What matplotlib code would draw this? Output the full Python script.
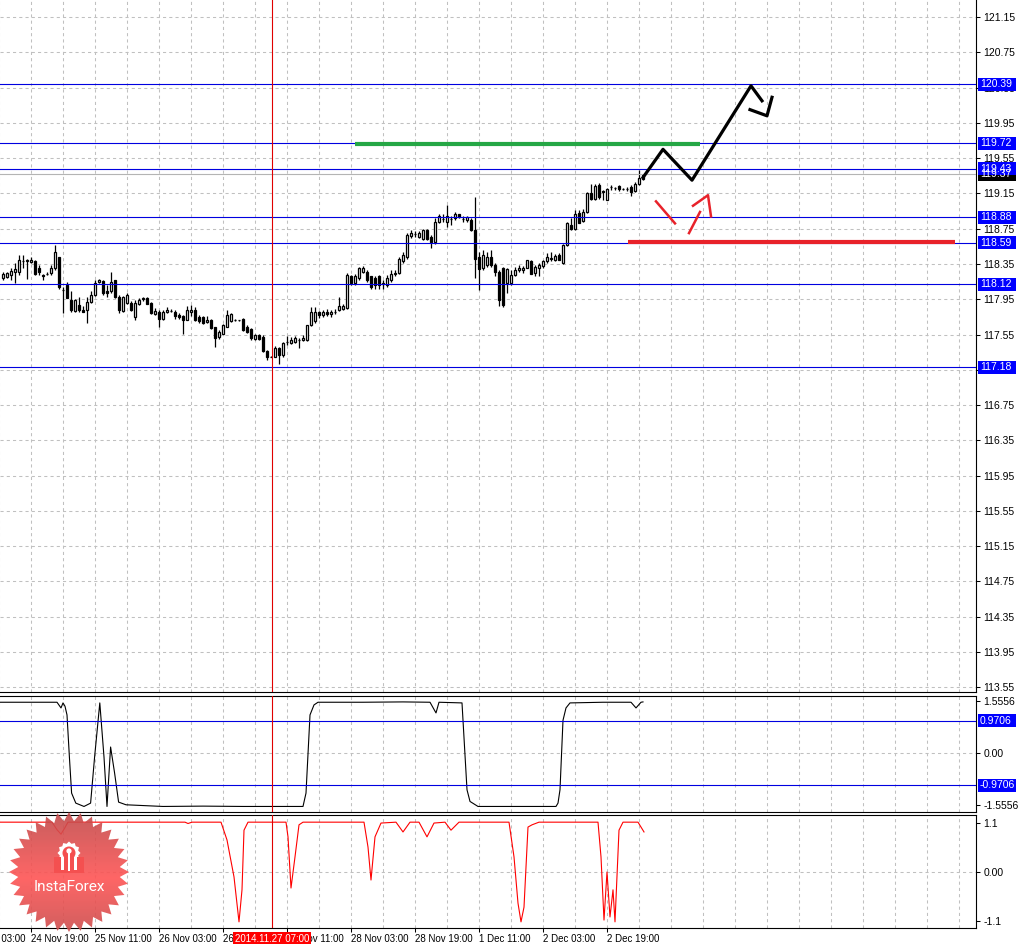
import numpy as np
import matplotlib.pyplot as plt
from matplotlib.patches import Rectangle, Polygon, Circle
from matplotlib.transforms import blended_transform_factory as blend

plt.rcParams['font.family'] = ['Liberation Sans', 'DejaVu Sans']
plt.rcParams['font.size'] = 7.5

# hourly USDJPY candles, bar 0 = 24 Nov 12:00
opens = [118.19, 118.20, 118.23, 118.26, 118.26, 118.38, 118.38, 118.37, 118.38, 118.31,
         118.23, 118.24, 118.25, 118.30, 118.43, 118.06, 118.11, 117.94, 117.82, 117.89,
         117.83, 117.83, 117.92, 118.00, 118.14, 118.16, 118.04, 118.04, 118.17, 117.98,
         117.82, 117.91, 117.91, 117.75, 117.90, 117.95, 117.96, 117.91, 117.78, 117.81,
         117.73, 117.80, 117.82, 117.80, 117.77, 117.76, 117.72, 117.81, 117.83, 117.75,
         117.75, 117.69, 117.71, 117.64, 117.52, 117.56, 117.64, 117.70, 117.72, 117.71,
         117.73, 117.64, 117.61, 117.50, 117.54, 117.52, 117.36, 117.30, 117.30, 117.40,
         117.32, 117.46, 117.45, 117.47, 117.49, 117.49, 117.49, 117.66, 117.70, 117.80,
         117.77, 117.80, 117.78, 117.81, 117.83, 117.84, 117.85, 118.21, 118.13, 118.19,
         118.26, 118.26, 118.21, 118.19, 118.21, 118.12, 118.11, 118.17, 118.24, 118.25,
         118.38, 118.43, 118.67, 118.69, 118.66, 118.63, 118.74, 118.66, 118.60, 118.83,
         118.86, 118.83, 118.86, 118.87, 118.92, 118.86, 118.85, 118.85, 118.73, 118.43,
         118.30, 118.34, 118.43, 118.34, 118.26, 118.30, 118.13, 118.13, 118.23, 118.28,
         118.28, 118.31, 118.38, 118.25, 118.30, 118.33, 118.38, 118.41, 118.40, 118.45,
         118.36, 118.57, 118.79, 118.75, 118.93, 118.84, 118.94, 119.16, 119.09, 119.25,
         119.18, 119.08, 119.22, 119.21, 119.23, 119.20, 119.20, 119.22, 119.18, 119.26,
         119.31]
highs = [118.26, 118.26, 118.30, 118.36, 118.45, 118.45, 118.41, 118.43, 118.40, 118.34,
         118.24, 118.26, 118.34, 118.57, 118.43, 118.09, 118.15, 118.04, 117.95, 117.98,
         117.87, 117.98, 118.04, 118.17, 118.18, 118.17, 118.11, 118.26, 118.17, 118.00,
         117.99, 118.02, 117.93, 117.94, 117.96, 117.98, 117.97, 117.92, 117.85, 117.83,
         117.83, 117.86, 117.84, 117.83, 117.79, 117.77, 117.87, 117.89, 117.86, 117.77,
         117.76, 117.76, 117.73, 117.64, 117.60, 117.67, 117.83, 117.79, 117.73, 117.72,
         117.74, 117.66, 117.62, 117.56, 117.56, 117.55, 117.38, 117.31, 117.42, 117.41,
         117.47, 117.53, 117.52, 117.53, 117.51, 117.55, 117.66, 117.86, 117.86, 117.82,
         117.83, 117.84, 117.83, 117.84, 117.98, 117.90, 118.25, 118.23, 118.24, 118.32,
         118.33, 118.28, 118.21, 118.21, 118.23, 118.17, 118.23, 118.28, 118.28, 118.43,
         118.49, 118.70, 118.74, 118.72, 118.72, 118.75, 118.75, 118.68, 118.87, 118.92,
         118.92, 119.02, 118.89, 118.94, 118.92, 118.89, 118.89, 118.87, 119.11, 118.49,
         118.51, 118.49, 118.51, 118.36, 118.28, 118.32, 118.31, 118.28, 118.32, 118.34,
         118.33, 118.40, 118.40, 118.34, 118.36, 118.40, 118.48, 118.49, 118.46, 118.47,
         118.58, 118.83, 118.87, 118.96, 118.96, 118.97, 119.17, 119.26, 119.26, 119.27,
         119.19, 119.21, 119.25, 119.22, 119.25, 119.21, 119.22, 119.25, 119.28, 119.42,
         119.37]
lows = [118.17, 118.19, 118.17, 118.13, 118.23, 118.30, 118.18, 118.36, 118.22, 118.22,
        118.17, 118.22, 118.22, 118.28, 118.07, 117.79, 117.96, 117.81, 117.81, 117.81,
        117.80, 117.68, 117.91, 117.99, 118.13, 118.00, 117.98, 118.02, 117.96, 117.79,
        117.81, 117.90, 117.82, 117.71, 117.89, 117.93, 117.90, 117.78, 117.77, 117.64,
        117.72, 117.79, 117.81, 117.73, 117.73, 117.56, 117.71, 117.76, 117.70, 117.68,
        117.67, 117.68, 117.61, 117.41, 117.50, 117.56, 117.63, 117.69, 117.70, 117.70,
        117.59, 117.57, 117.49, 117.49, 117.49, 117.35, 117.26, 117.29, 117.29, 117.22,
        117.30, 117.43, 117.44, 117.45, 117.40, 117.48, 117.48, 117.65, 117.68, 117.74,
        117.75, 117.76, 117.75, 117.78, 117.82, 117.83, 117.84, 118.11, 118.11, 118.17,
        118.25, 118.15, 118.07, 118.07, 118.07, 118.07, 118.09, 118.15, 118.21, 118.24,
        118.36, 118.41, 118.64, 118.66, 118.64, 118.62, 118.62, 118.53, 118.58, 118.81,
        118.83, 118.77, 118.79, 118.85, 118.87, 118.83, 118.83, 118.72, 118.19, 118.06,
        118.28, 118.32, 118.32, 118.21, 117.87, 117.86, 118.02, 118.11, 118.21, 118.26,
        118.25, 118.30, 118.24, 118.21, 118.21, 118.31, 118.36, 118.38, 118.38, 118.40,
        118.35, 118.55, 118.74, 118.74, 118.81, 118.83, 118.93, 119.08, 119.08, 119.09,
        119.08, 119.08, 119.19, 119.19, 119.18, 119.19, 119.18, 119.12, 119.17, 119.25,
        119.30]
closes = [118.24, 118.25, 118.27, 118.29, 118.40, 118.38, 118.39, 118.40, 118.24, 118.26,
          118.21, 118.24, 118.30, 118.49, 118.09, 118.05, 117.96, 117.83, 117.94, 117.83,
          117.81, 117.92, 118.00, 118.13, 118.17, 118.02, 118.02, 118.15, 117.98, 117.83,
          117.98, 118.00, 117.83, 117.91, 117.94, 117.96, 117.90, 117.79, 117.82, 117.73,
          117.81, 117.83, 117.82, 117.76, 117.75, 117.72, 117.83, 117.83, 117.71, 117.70,
          117.68, 117.71, 117.62, 117.51, 117.58, 117.66, 117.77, 117.78, 117.72, 117.71,
          117.60, 117.58, 117.51, 117.55, 117.50, 117.36, 117.29, 117.30, 117.40, 117.32,
          117.45, 117.46, 117.49, 117.51, 117.49, 117.51, 117.66, 117.81, 117.81, 117.77,
          117.80, 117.78, 117.81, 117.80, 117.87, 117.87, 118.23, 118.13, 118.21, 118.30,
          118.30, 118.17, 118.09, 118.11, 118.11, 118.13, 118.19, 118.24, 118.25, 118.41,
          118.45, 118.68, 118.70, 118.69, 118.70, 118.74, 118.63, 118.60, 118.83, 118.89,
          118.86, 118.89, 118.86, 118.92, 118.88, 118.86, 118.88, 118.73, 118.41, 118.29,
          118.45, 118.43, 118.34, 118.26, 117.94, 117.89, 118.29, 118.23, 118.28, 118.30,
          118.31, 118.40, 118.24, 118.32, 118.34, 118.38, 118.43, 118.42, 118.44, 118.40,
          118.57, 118.81, 118.75, 118.92, 118.82, 118.94, 119.15, 119.09, 119.23, 119.11,
          119.17, 119.20, 119.22, 119.21, 119.20, 119.20, 119.20, 119.17, 119.26, 119.33,
          119.36]

levels = [120.39, 119.72, 119.43, 118.88, 118.59, 118.12, 117.18]
bid = 119.37
price_ticks = [113.55, 113.95, 114.35, 114.75, 115.15, 115.55, 115.95, 116.35, 116.75, 117.15,
               117.55, 117.95, 118.35, 118.75, 119.15, 119.55, 119.95, 120.35, 120.75, 121.15]

time_bars = [-9, 7, 23, 39, 55, 71, 87, 103, 119, 135, 151]
time_labels = ['24 Nov 03:00', '24 Nov 19:00', '25 Nov 11:00', '26 Nov 03:00', '26 Nov 19:00',
               '27 Nov 11:00', '28 Nov 03:00', '28 Nov 19:00', '1 Dec 11:00', '2 Dec 03:00',
               '2 Dec 19:00']
cross_bar = 67.25
cross_label = '2014.11.27 07:00'

# drawn objects on the price chart (bar, price)
green_x = [88, 174.25]
green_y = [119.71, 119.71]
red_x = [156.25, 238]
red_y = [118.60, 118.60]
zig_x = [160, 165, 172.25, 187, 189.75]
zig_y = [119.33, 119.65, 119.30, 120.37, 120.20]
head_x = [186.75, 191, 192.25]
head_y = [120.10, 120.03, 120.24]
ra_x = [163.25, 168]
ra_y = [119.06, 118.81]
rb_x = [171.5, 174.25]
rb_y = [118.70, 118.94]
rc_x = [172.5, 176.25, 177]
rc_y = [119.01, 119.13, 118.89]

# indicator 1 (black, +-1.5556 band, levels +-0.9706)
ind1_x = [-1, 13.5, 14.5, 15, 15.5, 16, 16.6, 17.15, 18.2, 20.25, 21.9, 22.9, 24.2, 25.25, 26,
          26.9, 27.9, 28.9, 30.75, 40, 50, 60, 70, 75, 75.75, 76.75, 77.75, 78.75, 90, 100,
          106.75, 108.25, 109, 114.75, 116, 116.75, 118.75, 125, 138.25, 138.75, 139.25, 140,
          140.75, 141.75, 150, 157, 158.25, 159.5, 160]
ind1_y = [1.52, 1.52, 1.35, 1.50, 1.40, 1.14, -0.12, -1.20, -1.50, -1.60, -1.50, -0.12, 1.50,
          -0.12, -1.60, 0.18, -0.60, -1.47, -1.55, -1.60, -1.59, -1.60, -1.60, -1.60, -1.20,
          1.14, 1.44, 1.52, 1.52, 1.53, 1.52, 1.20, 1.52, 1.50, -1.10, -1.45, -1.60, -1.60,
          -1.60, -1.50, -1.10, 0.98, 1.35, 1.50, 1.52, 1.52, 1.35, 1.52, 1.53]
band1 = 1.5556
lvl1 = 0.9706

# indicator 2 (red, +-1.1)
ind2_x = [-1, 12.25, 13.5, 14.5, 15.5, 16.25, 45.5, 46.25, 47.25, 54.5, 56, 57.75, 59, 59.75,
          60.25, 61.25, 70.75, 71.25, 72, 73, 74, 75, 90.25, 91.25, 92, 93, 94.5, 98.25, 100,
          101.75, 104, 106, 107.75, 110.5, 112, 114, 126.5, 127.75, 128.75, 129.5, 130.25,
          131.25, 132.25, 134, 148.75, 149.5, 150.25, 151, 151.75, 152.5, 153, 154, 155,
          158.75, 160.25]
ind2_y = [1.12, 1.12, 0.95, 0.85, 1.0, 1.12, 1.12, 1.09, 1.12, 1.12, 0.72, -0.11, -1.12, -0.4,
          0.94, 1.12, 1.12, 0.79, -0.36, 0.34, 1.06, 1.12, 1.12, 0.56, -0.18, 0.79, 1.10, 1.12,
          0.90, 1.12, 1.12, 0.79, 1.10, 1.12, 0.94, 1.12, 1.12, 0.34, -0.70, -1.12, -0.79,
          1.01, 1.06, 1.12, 1.12, 0.34, -1.08, 0.0, -1.01, -0.40, -1.12, 0.94, 1.12, 1.12, 0.90]
band2 = 1.1

W, H = 1018, 944
GRID = '#c0c0c0'
BLUE = '#0000e0'

fig = plt.figure(figsize=(W / 100, H / 100), dpi=100)
ax = fig.add_axes([0, 252 / H, 976 / W, 692 / H])
ax2 = fig.add_axes([0, 132 / H, 976 / W, 116 / H])
ax3 = fig.add_axes([0, 16 / H, 976 / W, 113 / H])

ax.set_ylim(113.497, 121.343)
ax2.set_ylim(-1.766, 1.707)
ax3.set_ylim(-1.258, 1.281)

vgrid = np.arange(-1, 244, 8)
for a in (ax, ax2, ax3):
    a.set_xlim(-0.75, 243.25)
    for b in vgrid:
        a.axvline(b, color=GRID, lw=0.75, ls=(0, (3, 3)), zorder=0)
    a.axvline(cross_bar, color='#e00000', lw=0.8, zorder=6)
    a.yaxis.tick_right()
    a.tick_params(axis='y', length=3, width=0.75, pad=2.2, labelsize=7.5, colors='black')
    a.spines['left'].set_visible(False)
    for s in a.spines.values():
        s.set_linewidth(0.8)
ax.spines['top'].set_visible(False)

# main chart
for p in price_ticks:
    ax.axhline(p, color=GRID, lw=0.75, ls=(0, (3, 3)), zorder=0)
ax.set_yticks(price_ticks)
ax.set_yticklabels([f'{p:.2f}' for p in price_ticks])
ax.set_xticks([])

o = np.array(opens)
c = np.array(closes)
xb = np.arange(len(o))
ax.vlines(xb, lows, highs, color='black', lw=0.9, zorder=2)
ax.bar(xb, np.abs(c - o), bottom=np.minimum(o, c), width=0.62,
       color=np.where(c >= o, 'white', 'black'), edgecolor='black', lw=0.9, zorder=3)

for lv in levels:
    ax.axhline(lv, color=BLUE, lw=0.8, zorder=4)
ax.axhline(bid, color='#b4b4b4', lw=0.8, zorder=3.5)

ax.plot(green_x, green_y, color='#25a745', lw=3, solid_capstyle='butt', zorder=5)
ax.plot(red_x, red_y, color='#e8222a', lw=3, solid_capstyle='butt', zorder=5)
ax.plot(zig_x, zig_y, color='black', lw=2.3, zorder=5)
ax.plot(head_x, head_y, color='black', lw=2.3, zorder=5)
for xs, ys in ((ra_x, ra_y), (rb_x, rb_y), (rc_x, rc_y)):
    ax.plot(xs, ys, color='#e8222a', lw=1.8, zorder=5)


def tag(a, y, text, fc, ppu):
    tr = blend(a.transAxes, a.transData)
    h = 13 / ppu
    a.add_patch(Rectangle((1 + 2 / 976, y - h / 2), 38 / 976, h, transform=tr, fc=fc,
                          ec='none', clip_on=False, zorder=10))
    a.text(1 + 4 / 976, y, text, transform=tr, color='white', ha='left', va='center',
           fontsize=7.5, clip_on=False, zorder=11)


ppu_main = 692 / (121.343 - 113.497)
tag(ax, bid, f'{bid:.2f}', 'black', ppu_main)
for lv in levels:
    tag(ax, lv, f'{lv:.2f}', '#0000ff', ppu_main)

# indicator 1
ax2.axhline(0, color=GRID, lw=0.75, ls=(0, (3, 3)), zorder=0)
ax2.axhline(lvl1, color=BLUE, lw=0.8, zorder=4)
ax2.axhline(-lvl1, color=BLUE, lw=0.8, zorder=4)
ax2.plot(ind1_x, ind1_y, color='black', lw=0.8, zorder=3)
ax2.set_yticks([band1, 0, -band1])
ax2.set_yticklabels([f'{band1:.4f}', '0.00', f'{-band1:.4f}'])
ax2.set_xticks([])
ppu2 = 116 / (1.707 + 1.766)
tag(ax2, lvl1, f'{lvl1:.4f}', '#0000ff', ppu2)
tag(ax2, -lvl1, f'{-lvl1:.4f}', '#0000ff', ppu2)

# indicator 2
ax3.axhline(0, color=GRID, lw=0.75, ls=(0, (3, 3)), zorder=0)
ax3.plot(ind2_x, ind2_y, color='#ff0000', lw=0.8, zorder=3)
ax3.set_yticks([band2, 0, -band2])
ax3.set_yticklabels([f'{band2:.1f}', '0.00', f'{-band2:.1f}'])
ax3.set_xticks(time_bars[1:])
ax3.set_xticklabels(time_labels[1:], ha='left')
ax3.tick_params(axis='x', length=3, width=0.75, pad=1.5, labelsize=7)
ax3.text(time_bars[0] + 0.25, -0.05, time_labels[0], transform=blend(ax3.transData, ax3.transAxes),
         ha='left', va='top', fontsize=7, clip_on=False)
ax3.text(cross_bar, -0.095, cross_label, transform=blend(ax3.transData, ax3.transAxes),
         ha='center', va='center', fontsize=7, color='white', clip_on=False, zorder=12,
         bbox=dict(boxstyle='square,pad=0.15', fc='#ff0000', ec='none'))

# InstaForex badge
lg = fig.add_axes([0, 0, 1, 1])
lg.axis('off')
n = 32
ang = np.linspace(0, 2 * np.pi, 2 * n, endpoint=False) - np.pi / 2
rad = np.where(np.arange(2 * n) % 2 == 0, 60, 51)
star = Polygon(np.c_[69 + rad * np.cos(ang), 872 + rad * np.sin(ang)], closed=True,
               fc='none', ec='none')
lg.add_patch(star)
t = np.linspace(0, 1, 120)
mix = np.clip(1 - np.abs(t - 0.55) * 1.6, 0, 1)
top = np.array([0.72, 0.29, 0.29])
mid = np.array([1.0, 0.33, 0.33])
rgb = top[None, :] * (1 - mix[:, None]) + mid[None, :] * mix[:, None]
img = np.concatenate([rgb, np.full((len(t), 1), 0.9)], axis=1)[:, None, :]
im = lg.imshow(img, extent=[8, 130, 933, 811], aspect='auto', zorder=1)
im.set_clip_path(star)
g_ang = np.linspace(0, 2 * np.pi, 24, endpoint=False)
g_rad = np.where(np.arange(24) % 2 == 0, 11.5, 9.5)
lg.add_patch(Polygon(np.c_[69 + g_rad * np.cos(g_ang), 853 + g_rad * np.sin(g_ang)],
                     closed=True, fc='white', ec='none', zorder=2))
lg.add_patch(Circle((69, 853), 6.5, fc='#f45050', ec='none', zorder=3))
lg.add_patch(Rectangle((54, 857), 30, 16, fc='#f45050', ec='none', zorder=3))
lg.add_patch(Circle((69, 851), 2.6, fc='white', ec='none', zorder=4))
lg.add_patch(Rectangle((67.6, 853), 2.8, 18, fc='white', ec='none', zorder=4))
lg.add_patch(Rectangle((61, 857), 2.6, 13, fc='white', ec='none', zorder=4))
lg.add_patch(Rectangle((74.4, 857), 2.6, 13, fc='white', ec='none', zorder=4))
lg.text(69.5, 887, 'InstaForex', color='white', fontsize=11, family='Roboto',
        ha='center', va='center', zorder=5)
lg.set_xlim(0, W)
lg.set_ylim(H, 0)

fig.savefig('out.png', dpi=100)
